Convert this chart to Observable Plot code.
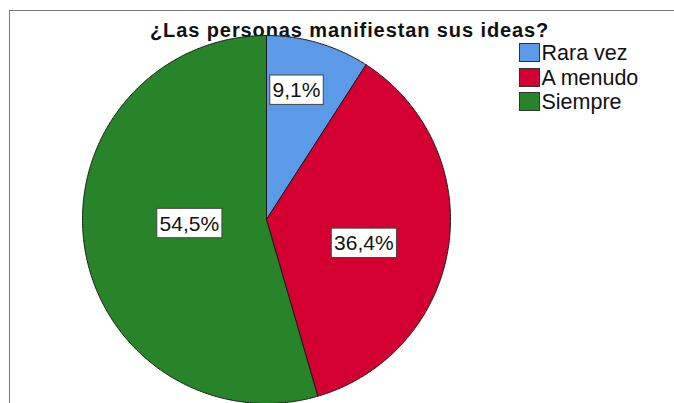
<!DOCTYPE html>
<html>
<head>
<meta charset="utf-8">
<script src="https://cdn.jsdelivr.net/npm/d3@7"></script>
<script src="https://cdn.jsdelivr.net/npm/@observablehq/plot@0.6"></script>
<style>
  html, body { margin: 0; padding: 0; background: #fff; }
  #chart { position: relative; width: 674px; height: 403px; overflow: hidden; background: #fff; font-family: "Liberation Sans", Arial, sans-serif; }
  #frame { position: absolute; left: 9px; top: 10px; right: 0; bottom: 0; border-top: 1px solid #777; border-left: 1px solid #777; }
  #title { position: absolute; left: 150px; top: 19.6px; font-size: 20px; line-height: 20px; font-weight: bold; letter-spacing: 0.9px; white-space: nowrap; color: #111; }
  #plot { position: absolute; left: 0; top: 0; }
  #legend { position: absolute; left: 519px; top: 43.3px; }
  .row { position: absolute; left: 0; white-space: nowrap; }
  .sw { position: absolute; left: 0; top: 0; width: 19px; height: 17px; border: 1px solid #333; }
  .lab { position: absolute; left: 22.5px; top: 0; font-size: 21.5px; line-height: 21.5px; color: #111; }
</style>
</head>
<body>
<div id="chart">
  <div id="frame"></div>
  <div id="title"></div>
  <div id="plot"></div>
  <div id="legend"></div>
</div>
<script>
const title = "¿Las personas manifiestan sus ideas?";
const categories = ["Rara vez", "A menudo", "Siempre"];
const percents = [9.1, 36.4, 54.5];
const percentLabels = ["9,1%", "36,4%", "54,5%"];
const colors = ["#5a9ae6", "#d50032", "#288428"];
// label placement: fraction along slice angle, fraction of radius
const labelT = [0.4, 0.543, 0.525];
const labelR = [0.72, 0.545, 0.42];

document.getElementById("title").textContent = title;

const total = d3.sum(percents);
let acc = 0;
const polys = [];
const labels = [];
categories.forEach((cat, i) => {
  const a0 = acc / total * 2 * Math.PI;
  acc += percents[i];
  const a1 = acc / total * 2 * Math.PI;
  const n = Math.max(2, Math.ceil((a1 - a0) / (Math.PI / 360)));
  polys.push({cat, x: 0, y: 0});
  for (let k = 0; k <= n; k++) {
    const a = a0 + (a1 - a0) * k / n;
    polys.push({cat, x: Math.sin(a), y: Math.cos(a)});
  }
  polys.push({cat, x: 0, y: 0});
  const am = a0 + (a1 - a0) * labelT[i];
  labels.push({cat, text: percentLabels[i], x: labelR[i] * Math.sin(am), y: labelR[i] * Math.cos(am)});
});

const svg = Plot.plot({
  width: 674,
  height: 403,
  marginLeft: 82,
  marginRight: 224,
  marginTop: 35,
  marginBottom: 0,
  x: {domain: [-1, 1], axis: null},
  y: {domain: [-1, 1], axis: null},
  color: {domain: categories, range: colors},
  style: {background: "transparent", overflow: "visible", fontFamily: "'Liberation Sans', Arial, sans-serif"},
  marks: [
    Plot.line(polys, {x: "x", y: "y", z: "cat", fill: "cat", stroke: "#1a1a1a", strokeWidth: 1, curve: "linear", strokeLinejoin: "miter"}),
    Plot.text(labels, {x: "x", y: "y", text: "text", fontSize: 21, fill: "#111", textAnchor: "middle", lineAnchor: "middle"})
  ]
});
document.getElementById("plot").appendChild(svg);

// white boxes behind percentage labels
svg.querySelectorAll('g[aria-label="text"] text').forEach(t => {
  const b = t.getBBox();
  const r = document.createElementNS("http://www.w3.org/2000/svg", "rect");
  const px = 2.8, py = 3.2;
  r.setAttribute("x", b.x - px);
  r.setAttribute("y", b.y - py);
  r.setAttribute("width", b.width + 2 * px);
  r.setAttribute("height", b.height + 2 * py);
  r.setAttribute("fill", "#fff");
  r.setAttribute("stroke", "#444");
  r.setAttribute("stroke-width", "1");
  if (t.getAttribute("transform")) r.setAttribute("transform", t.getAttribute("transform"));
  t.parentNode.insertBefore(r, t);
});

// legend
const legend = document.getElementById("legend");
categories.forEach((cat, i) => {
  const row = document.createElement("div");
  row.className = "row";
  row.style.top = (i * 24.5) + "px";
  const sw = document.createElement("div");
  sw.className = "sw";
  sw.style.background = colors[i];
  const lab = document.createElement("div");
  lab.className = "lab";
  lab.textContent = cat;
  row.appendChild(sw);
  row.appendChild(lab);
  legend.appendChild(row);
});
</script>
</body>
</html>
